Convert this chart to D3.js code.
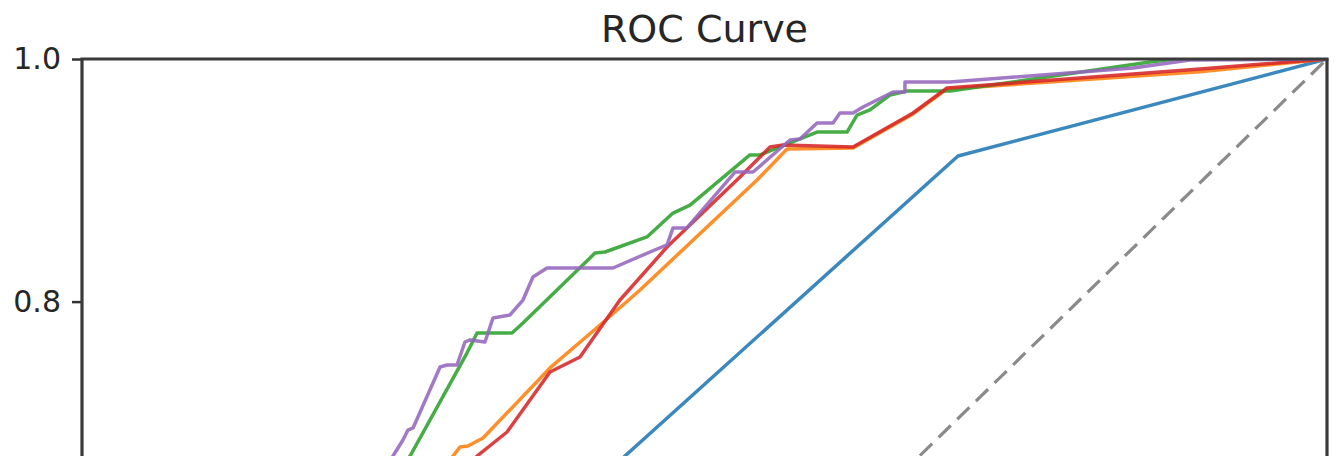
<!DOCTYPE html>
<html>
<head>
<meta charset="utf-8">
<script src="https://cdn.jsdelivr.net/npm/d3@7"></script>
<style>
  html, body { margin: 0; padding: 0; background: #fff; }
  svg { display: block; }
</style>
</head>
<body>
<svg id="chart" width="1336" height="456"></svg>
<script>
// ---- data (false positive rate, true positive rate) ----
const title = "ROC Curve";
const yTicks = [0.8, 1.0];
const yTickLabels = ["0.8", "1.0"];

const blueFpr = [0, 0.10, 0.4361, 0.7036, 1];
const blueTpr = [0, 0.36, 0.6727, 0.9200, 1];

const orangeFpr = [0, 0.05, 0.15, 0.25, 0.2980, 0.3036, 0.3100, 0.3221, 0.3759, 0.4161, 0.4482, 0.5422, 0.5663, 0.6193, 0.6675, 0.6948, 0.8980, 1];
const orangeTpr = [0, 0.18, 0.42, 0.60, 0.6727, 0.6801, 0.6810, 0.6875, 0.7453, 0.7807, 0.8096, 0.9002, 0.9258, 0.9266, 0.9547, 0.9753, 0.9895, 1];

const greenFpr = [0, 0.04, 0.12, 0.20, 0.2635, 0.3092, 0.3173, 0.3454, 0.3542, 0.4080, 0.4120, 0.4201, 0.4538, 0.4747, 0.4884, 0.5365, 0.5446, 0.5606, 0.5904, 0.6145, 0.6225, 0.6329, 0.6490, 0.6627, 0.6972, 0.8578, 0.8779, 1];
const greenTpr = [0, 0.22, 0.45, 0.60, 0.6727, 0.7576, 0.7741, 0.7741, 0.7824, 0.8359, 0.8401, 0.8409, 0.8533, 0.8730, 0.8796, 0.9209, 0.9209, 0.9275, 0.9398, 0.9398, 0.9538, 0.9580, 0.9703, 0.9736, 0.9736, 0.9975, 1.0, 1];

const redFpr = [0, 0.06, 0.16, 0.26, 0.3173, 0.3414, 0.3759, 0.4000, 0.4321, 0.4699, 0.5285, 0.5526, 0.5631, 0.6193, 0.6675, 0.6948, 0.8980, 1];
const redTpr = [0, 0.18, 0.42, 0.60, 0.6727, 0.6925, 0.7420, 0.7543, 0.8013, 0.8450, 0.9027, 0.9275, 0.9291, 0.9275, 0.9555, 0.9761, 0.9918, 1];

const purpleFpr = [0, 0.04, 0.11, 0.19, 0.2498, 0.2578, 0.2618, 0.2659, 0.2876, 0.2932, 0.3012, 0.3076, 0.3116, 0.3237, 0.3301, 0.3438, 0.3542, 0.3622, 0.3735, 0.4265, 0.4562, 0.4699, 0.4747, 0.4859, 0.5245, 0.5390, 0.5687, 0.5767, 0.5904, 0.6032, 0.6088, 0.6193, 0.6273, 0.6386, 0.6514, 0.6610, 0.6610, 0.6972, 0.8442, 0.8900, 1];
const purpleTpr = [0, 0.24, 0.46, 0.60, 0.6727, 0.6859, 0.6941, 0.6958, 0.7461, 0.7477, 0.7477, 0.7667, 0.7684, 0.7667, 0.7865, 0.7890, 0.8013, 0.8203, 0.8277, 0.8277, 0.8409, 0.8467, 0.8607, 0.8607, 0.9068, 0.9068, 0.9332, 0.9340, 0.9472, 0.9472, 0.9555, 0.9555, 0.9604, 0.9662, 0.9728, 0.9728, 0.9810, 0.9810, 0.9926, 0.9992, 1];

const chanceFpr = [0, 1];
const chanceTpr = [0, 1];

const seriesList = [
  { fpr: blueFpr, tpr: blueTpr, color: "#1f77b4" },
  { fpr: orangeFpr, tpr: orangeTpr, color: "#ff7f0e" },
  { fpr: greenFpr, tpr: greenTpr, color: "#2ca02c" },
  { fpr: redFpr, tpr: redTpr, color: "#d62728" },
  { fpr: purpleFpr, tpr: purpleTpr, color: "#9467bd" }
];

// ---- layout ----
const svg = d3.select("#chart");
const plotL = 82, plotR = 1327, plotT = 59, plotB = 59 + 1213;

const x = d3.scaleLinear().domain([0, 1]).range([plotL, plotR]);
const y = d3.scaleLinear().domain([0, 1]).range([plotB, plotT]);

svg.append("defs").append("clipPath").attr("id", "plotclip")
  .append("rect").attr("x", plotL).attr("y", plotT)
  .attr("width", plotR - plotL).attr("height", plotB - plotT);

const plot = svg.append("g").attr("clip-path", "url(#plotclip)");

const line = d3.line().x(d => x(d[0])).y(d => y(d[1]));

// chance line
plot.append("path")
  .datum(d3.zip(chanceFpr, chanceTpr))
  .attr("d", line)
  .attr("fill", "none")
  .attr("stroke", "#8a8a8a")
  .attr("stroke-width", 3.2)
  .attr("stroke-dasharray", "17,9");

seriesList.forEach(s => {
  plot.append("path")
    .datum(d3.zip(s.fpr, s.tpr))
    .attr("d", line)
    .attr("fill", "none")
    .attr("stroke", s.color)
    .attr("stroke-opacity", 0.88)
    .attr("stroke-width", 3.5)
    .attr("stroke-linejoin", "round")
    .attr("stroke-linecap", "square");
});

// y axis
const yAxis = d3.axisLeft(y)
  .tickValues(yTicks)
  .tickFormat((d, i) => yTickLabels[i])
  .tickSize(10)
  .tickPadding(11);

const gy = svg.append("g").attr("transform", `translate(${plotL},0)`).call(yAxis);
gy.select(".domain").remove();
gy.selectAll(".tick line").attr("stroke", "#333").attr("stroke-width", 2.5);
gy.selectAll(".tick text")
  .attr("font-family", "DejaVu Sans, sans-serif")
  .attr("font-size", 30)
  .attr("fill", "#262626");

// spines
const spine = svg.append("g").attr("fill", "none").attr("stroke", "#3a3a3a").attr("stroke-width", 3.2);
spine.append("line").attr("x1", plotL).attr("x2", plotL).attr("y1", plotT).attr("y2", plotB);
spine.append("line").attr("x1", plotR).attr("x2", plotR).attr("y1", plotT).attr("y2", plotB);
spine.append("line").attr("x1", plotL - 1.6).attr("x2", plotR + 1.6).attr("y1", plotT).attr("y2", plotT);

// title
svg.append("text")
  .attr("x", (plotL + plotR) / 2)
  .attr("y", 42)
  .attr("text-anchor", "middle")
  .attr("font-family", "DejaVu Sans, sans-serif")
  .attr("font-size", 38)
  .attr("fill", "#262626")
  .text(title);
</script>
</body>
</html>
